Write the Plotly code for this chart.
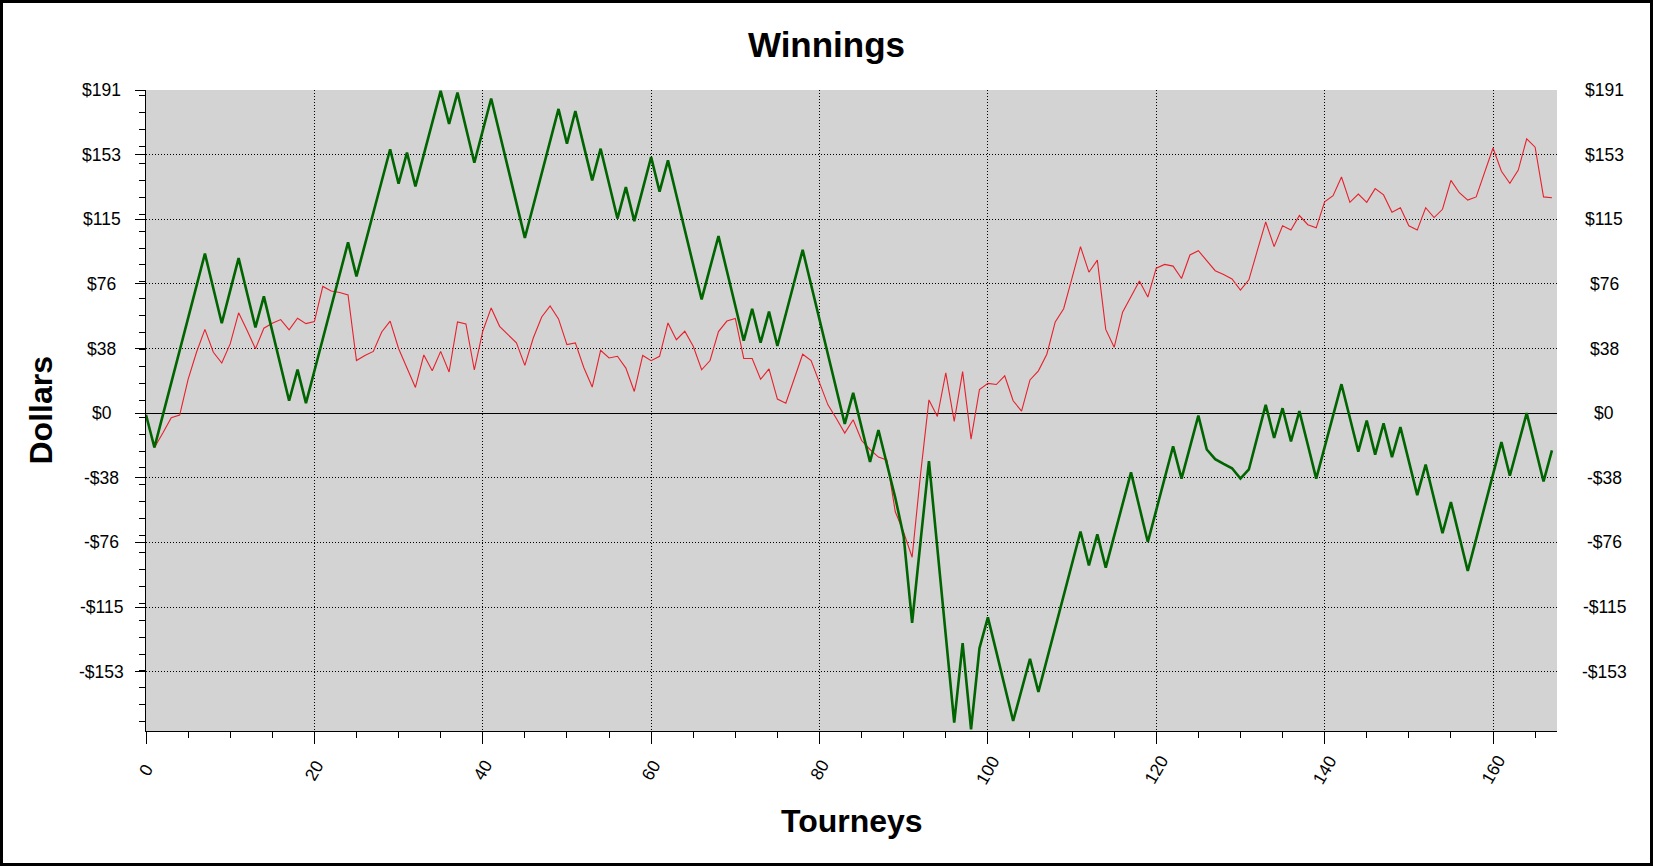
import plotly.graph_objects as go

# ---------------- data ----------------
tourneys = list(range(168))

green_winnings = [
    -1, -20.3, -1.2, 17.9, 37, 56.1, 75.2, 94.3, 73.7, 53.1,
    72.4, 91.6, 71, 50.7, 69, 48.5, 27.9, 7.3, 25.7, 5.9,
    24.9, 43.9, 62.9, 81.9, 100.9, 80.8, 99.6, 118, 137, 156,
    135.6, 154, 134, 152.8, 171.7, 190.5, 171, 189.5, 168.7, 148,
    167, 186, 165.4, 144.8, 124.2, 103.6, 122.6, 141.7, 160.7, 179.8,
    159.3, 178.6, 158, 137.6, 156.3, 135.7, 115, 133.6, 113.5, 132.4,
    151.4, 130.9, 149.4, 128.8, 108.3, 87.7, 67.2, 86, 104.6, 84,
    63.4, 42.8, 61.7, 41.6, 60, 39.7, 58.6, 77.5, 96.5, 75.9,
    55.3, 34.7, 14.1, -6.4, 12, -8.5, -28.9, -10, -30, -50,
    -73, -124, -76, -28.4, -80, -131, -183, -136, -187, -139,
    -120.7, -141, -162, -182, -163.6, -145.2, -164.8, -145.8, -126.8, -107.8,
    -88.8, -70, -90, -71.7, -91.3, -72.5, -53.8, -35, -55.6, -76.2,
    -57.3, -38.4, -19.6, -38.7, -20.1, -1.5, -21.5, -27.2, -30, -32.6,
    -38.7, -33.3, -14.2, 4.9, -14.7, 2.9, -16.7, 1.2, -18.7, -38.7,
    -20.1, -1.5, 17.1, -2.9, -22.8, -4.4, -24.5, -6.1, -26, -8.3,
    -28.4, -48.5, -30.4, -50.7, -71, -52.6, -73, -93.3, -74.3, -55.2,
    -36.2, -17.1, -37, -18.5, 0, -20.2, -40.4, -22,
]

red_winnings = [
    -1, -20.3, -11.8, -2.7, -1.2, 20, 36, 49.5, 36, 29.6,
    40.9, 59.3, 49, 38, 50.2, 53.1, 55.3, 49.2, 56.1, 52.9,
    54.1, 74.9, 72.2, 71.3, 69.8, 31.1, 34, 36.5, 48, 54.4,
    38.2, 26.2, 15.2, 34.4, 25, 36.5, 24.3, 53.9, 52.7, 25.5,
    48.4, 62.2, 51.3, 46.4, 41.5, 28.2, 44.4, 56.8, 63.4, 55.7,
    40.5, 41.5, 27, 15.4, 37.1, 32.6, 33.6, 26.6, 12.8, 34.1,
    31, 33.6, 53.3, 43.4, 48.4, 39.5, 25.6, 31.1, 48.2, 54.4,
    56, 32.3, 32.3, 20, 26.2, 8.3, 5.9, 20.3, 34.8, 31.1,
    17.6, 4.9, -3.2, -11.8, -3.9, -16.2, -21.5, -26, -27.7, -58.3,
    -70.5, -85.2, -36.2, 7.8, -2, 23.8, -4.9, 24.5, -15.4, 14,
    17.6, 16.9, 22, 7.3, 1.2, 19.6, 25, 34.8, 53.9, 61.7,
    80, 98.4, 83.3, 90.4, 49.5, 38.9, 59.7, 69, 78.1, 68.6,
    85.7, 87.9, 86.9, 79.6, 93.5, 96, 89.9, 84.2, 82, 79.3,
    72.7, 78.8, 96, 113, 98.4, 110.7, 108.2, 116.8, 111.4, 109.5,
    124.9, 128.5, 139.6, 124.6, 129.5, 124.6, 132.7, 129, 118.8, 121.4,
    110.7, 108.2, 121.4, 115.6, 120.5, 137.6, 130.3, 125.9, 127.8, 141.8,
    156.7, 143, 135.9, 143.7, 162.1, 157.2, 127.8, 127.3,
]

ytick_vals = [191, 152.8, 114.6, 76.4, 38.2, 0, -38.2, -76.4, -114.6, -152.8]
ytick_text = ["$191", "$153", "$115", "$76", "$38", "$0", "-$38", "-$76", "-$115", "-$153"]
xtick_vals = [0, 20, 40, 60, 80, 100, 120, 140, 160]
xtick_text = [str(v) for v in xtick_vals]

# ---------------- layout constants ----------------
W, H = 1653, 866
L, R, T, B = 146, 96, 90, 135
PW, PH = W - L - R, H - T - B
XR = [0, 167.6]
YR = [-187.9, 191]
FONT = "Liberation Sans, Arial, sans-serif"
DOTS = "1px,2px"
TICKFONT = 17.5

fig = go.Figure()
fig.add_trace(go.Scatter(x=tourneys, y=red_winnings, mode="lines",
                         line=dict(color="#E8202C", width=1.1), showlegend=False))
fig.add_trace(go.Scatter(x=tourneys, y=green_winnings, mode="lines",
                         line=dict(color="#006400", width=2.6), showlegend=False))

common_x = dict(range=XR, tickmode="array", tickvals=xtick_vals, tickcolor="black",
                zeroline=False, fixedrange=True)
common_y = dict(range=YR, tickmode="array", tickvals=ytick_vals, tickcolor="black",
                zeroline=False, fixedrange=True)

fig.update_layout(
    width=W, height=H,
    margin=dict(l=L, r=R, t=T, b=B, autoexpand=False),
    paper_bgcolor="white", plot_bgcolor="#D3D3D3",
    font=dict(family=FONT, color="black", size=TICKFONT),
    title=dict(text="Winnings", x=0.5, xref="container", xanchor="center",
               y=1 - 45 / H, yref="container", yanchor="middle",
               font=dict(family=FONT, size=35, weight="bold", color="black")),
    xaxis=dict(**common_x, ticks="outside", ticklen=12, showticklabels=False,
               showline=True, linecolor="black", linewidth=1,
               showgrid=True, gridcolor="black", gridwidth=1, griddash=DOTS,
               minor=dict(dtick=5, tick0=0, ticks="outside", ticklen=6, tickcolor="black", showgrid=False)),
    xaxis3=dict(**common_x, overlaying="x", anchor="y", side="bottom", ticks="inside", ticklen=6,
                showticklabels=False, showgrid=False, showline=False,
                minor=dict(dtick=5, tick0=0, ticks="inside", ticklen=6, tickcolor="black", showgrid=False)),
    xaxis2=dict(**common_x, overlaying="x", anchor="y", side="top", ticks="inside", ticklen=9,
                showticklabels=False, showgrid=False, showline=True, linecolor="black", linewidth=1,
                minor=dict(dtick=5, tick0=0, ticks="inside", ticklen=6, tickcolor="black", showgrid=False)),
    yaxis=dict(**{**common_y, "zeroline": True}, zerolinecolor="black", zerolinewidth=1,
               ticks="outside", ticklen=10, showticklabels=False,
               showline=True, linecolor="black", linewidth=1,
               showgrid=True, gridcolor="black", gridwidth=1, griddash=DOTS,
               minor=dict(dtick=10, tick0=7.6, ticks="outside", ticklen=6, tickcolor="black", showgrid=False)),
    yaxis3=dict(**common_y, overlaying="y", anchor="x", side="left", ticks="inside", ticklen=5,
                showticklabels=False, showgrid=False, showline=False,
                minor=dict(dtick=10, tick0=7.6, ticks="inside", ticklen=5, tickcolor="black", showgrid=False)),
    yaxis2=dict(**common_y, overlaying="y", anchor="x", side="right", ticks="inside", ticklen=11,
                showticklabels=False, showgrid=False, showline=True, linecolor="black", linewidth=1,
                minor=dict(dtick=10, tick0=7.6, ticks="inside", ticklen=7, tickcolor="black", showgrid=False)),
    yaxis4=dict(**common_y, overlaying="y", anchor="x", side="right", ticks="outside", ticklen=12,
                showticklabels=False, showgrid=False, showline=False,
                minor=dict(dtick=10, tick0=7.6, ticks="outside", ticklen=5, tickcolor="black", showgrid=False)),
)

annotations = []
left_x = (101.7 - L) / PW
right_x = (1604 - L) / PW
for v, t in zip(ytick_vals, ytick_text):
    for xp in (left_x, right_x):
        annotations.append(dict(x=xp, xref="paper", y=v, yref="y", text=t, showarrow=False,
                                xanchor="center", yanchor="middle",
                                font=dict(family=FONT, size=TICKFONT, color="black")))
xlab_y = (H - B - 770) / PH
for v, t in zip(xtick_vals, xtick_text):
    annotations.append(dict(x=v, xref="x", y=xlab_y, yref="paper", text=t, showarrow=False,
                            textangle=-60, xanchor="center", yanchor="middle",
                            font=dict(family=FONT, size=TICKFONT, color="black")))
annotations.append(dict(x=(40 - L) / PW, xref="paper", y=0.5, yref="paper", text="Dollars",
                        textangle=-90, showarrow=False, xanchor="center", yanchor="middle",
                        font=dict(family=FONT, size=32, weight="bold", color="black")))
annotations.append(dict(x=0.5, xref="paper", y=(H - B - 821) / PH, yref="paper", text="Tourneys",
                        showarrow=False, xanchor="center", yanchor="middle",
                        font=dict(family=FONT, size=32, weight="bold", color="black")))
fig.update_layout(annotations=annotations)

# outer frame of the picture
fig.add_shape(type="rect", xref="paper", yref="paper",
              x0=(1.5 - L) / PW, x1=(W - 1.5 - L) / PW,
              y0=(H - B - (H - 1.5)) / PH, y1=(H - B - 1.5) / PH,
              line=dict(color="black", width=3), fillcolor="rgba(0,0,0,0)", layer="above")

fig.write_html("out.html", config={"displayModeBar": False, "staticPlot": True},
               post_script="document.body.style.margin='0';document.body.style.overflow='hidden';")
